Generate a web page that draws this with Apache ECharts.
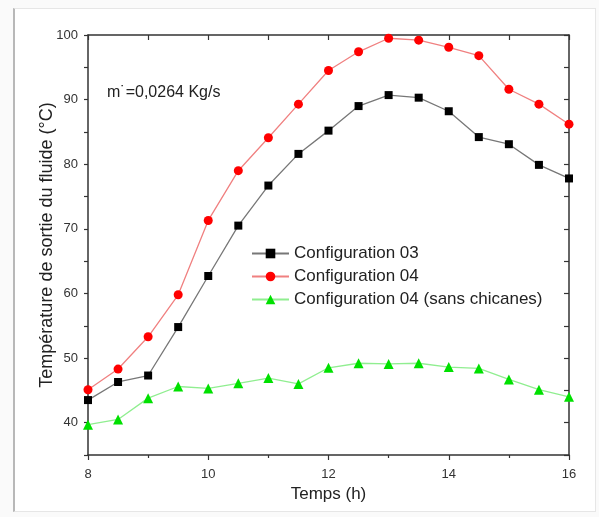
<!DOCTYPE html>
<html>
<head>
<meta charset="utf-8">
<script src="https://cdn.jsdelivr.net/npm/echarts@6/dist/echarts.min.js"></script>
<style>
html,body{margin:0;padding:0;background:#fafafa;}
#frame{position:absolute;left:13px;top:8px;width:580px;height:502px;background:#fff;border:1px solid #e6e6e6;border-left:2px solid #b8b8b8;}
#chart{position:absolute;left:0;top:0;width:599px;height:517px;}
</style>
</head>
<body>
<div id="frame"></div>
<div id="chart"></div>
<script>
var hours = [8, 8.5, 9, 9.5, 10, 10.5, 11, 11.5, 12, 12.5, 13, 13.5, 14, 14.5, 15, 15.5, 16];
var config03 = [43.5, 46.3, 47.3, 54.8, 62.7, 70.5, 76.7, 81.6, 85.2, 89.0, 90.7, 90.3, 88.2, 84.2, 83.1, 79.9, 77.8];
var config04 = [45.1, 48.3, 53.3, 59.8, 71.3, 79.0, 84.1, 89.3, 94.5, 97.4, 99.5, 99.2, 98.1, 96.8, 91.6, 89.3, 86.2];
var config04sans = [39.7, 40.5, 43.8, 45.6, 45.3, 46.1, 46.9, 46.0, 48.5, 49.2, 49.1, 49.2, 48.6, 48.4, 46.7, 45.1, 44.0];
var names = ['Configuration 03', 'Configuration 04', 'Configuration 04 (sans chicanes)'];

function pairs(ys){ return hours.map(function(h,i){ return [h, ys[i]]; }); }

var font = 'Liberation Sans, Arial, sans-serif';
var axisColor = '#333';
var chart = echarts.init(document.getElementById('chart'), null, {renderer:'canvas'});
chart.setOption({
  backgroundColor: 'transparent',
  animation: false,
  textStyle: {fontFamily: font},
  grid: {left: 88, right: 30, top: 35, bottom: 62},
  legend: {
    orient: 'vertical', left: 246, top: 240, itemWidth: 37, itemHeight: 12, itemGap: 6,
    textStyle: {fontSize: 17, color: '#222', fontFamily: font},
    data: names
  },
  graphic: [{
    type: 'text', left: 107, top: 85,
    style: {text: 'm\u02D9=0,0264 Kg/s', fontSize: 16, fill: '#222', fontFamily: font}
  }],
  xAxis: [{
    type: 'value', min: 8, max: 16, interval: 2,
    name: 'Temps (h)', nameLocation: 'middle', nameGap: 31,
    nameTextStyle: {fontSize: 17, color: '#222', fontFamily: font},
    axisLine: {show: true, onZero: false, lineStyle: {color: axisColor, width: 1.5}},
    axisTick: {show: true, inside: false, length: 5, lineStyle: {color: axisColor, width: 1.2}},
    minorTick: {show: true, splitNumber: 2, length: 3, lineStyle: {color: axisColor, width: 1.2}},
    axisLabel: {fontSize: 13, color: '#333', margin: 13, fontFamily: font},
    splitLine: {show: false}
  }, {
    type: 'value', position: 'top', min: 8, max: 16, interval: 1,
    axisLine: {show: true, onZero: false, lineStyle: {color: axisColor, width: 1.5}},
    axisTick: {show: true, inside: true, length: 5, lineStyle: {color: axisColor, width: 1.2}},
    axisLabel: {show: false}, splitLine: {show: false}
  }],
  yAxis: [{
    type: 'value', min: 35, max: 100, interval: 5,
    name: 'Température de sortie du fluide (°C)', nameLocation: 'middle', nameGap: 32,
    nameMoveOverlap: false,
    nameTextStyle: {fontSize: 18, color: '#222', fontFamily: font},
    axisLine: {show: true, onZero: false, lineStyle: {color: axisColor, width: 1.5}},
    axisTick: {show: true, inside: false, length: 4, lineStyle: {color: axisColor, width: 1.2}},
    axisLabel: {fontSize: 13, color: '#333', margin: 10, fontFamily: font,
      formatter: function(v){ return (v % 10 === 0) ? String(v) : ''; }},
    splitLine: {show: false}
  }, {
    type: 'value', position: 'right', min: 35, max: 100, interval: 5,
    axisLine: {show: true, onZero: false, lineStyle: {color: axisColor, width: 1.5}},
    axisTick: {show: true, inside: true, length: 5, lineStyle: {color: axisColor, width: 1.2}},
    axisLabel: {show: false}, splitLine: {show: false}
  }],
  series: [{
    name: names[0], type: 'line', data: pairs(config03),
    symbol: 'rect', symbolSize: 8,
    lineStyle: {color: '#777', width: 1.3},
    itemStyle: {color: '#000'}, z: 3
  }, {
    name: names[1], type: 'line', data: pairs(config04),
    symbol: 'circle', symbolSize: 9,
    lineStyle: {color: '#f08080', width: 1.3},
    itemStyle: {color: '#ff0000'}, z: 3
  }, {
    name: names[2], type: 'line', data: pairs(config04sans),
    symbol: 'triangle', symbolSize: 10,
    lineStyle: {color: '#90ee90', width: 1.3},
    itemStyle: {color: '#00e000'}, z: 3
  }]
});
</script>
</body>
</html>
